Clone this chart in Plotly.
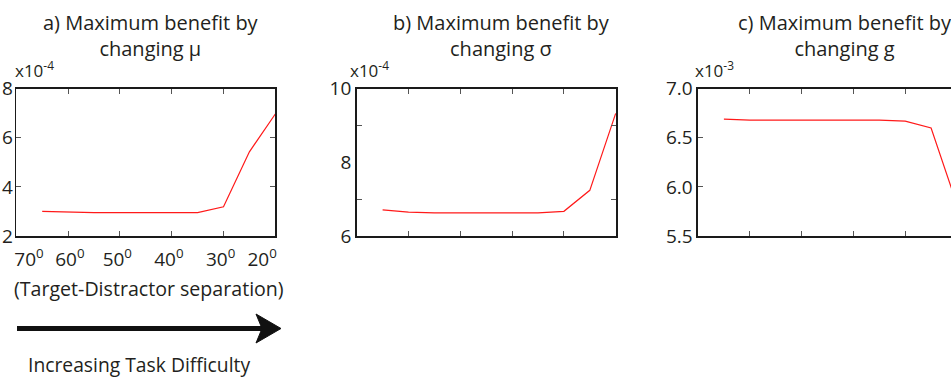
import plotly.graph_objects as go

W, H = 951, 377

# ---- data (values shown in the scale of each panel's multiplier) ----
step = [1, 2, 3, 4, 5, 6, 7, 8, 9, 10]
benefit_mu = [3.00, 2.96, 2.95, 2.95, 2.95, 2.95, 2.95, 3.19, 5.43, 6.97]      # x10^-4
benefit_sigma = [6.71, 6.65, 6.63, 6.63, 6.63, 6.63, 6.63, 6.67, 7.24, 9.33]   # x10^-4
benefit_g = [6.69, 6.68, 6.68, 6.68, 6.68, 6.68, 6.68, 6.67, 6.60, 5.82]       # x10^-3

sep_labels = ["70", "60", "50", "40", "30", "20"]
sep_label_pos = [0.49, 2.07, 3.9, 5.89, 7.89, 9.49]

titles = ["a) Maximum benefit by<br>changing μ",
          "b) Maximum benefit by<br>changing σ",
          "c) Maximum benefit by<br>changing g"]
multipliers = ["x10<sup>-4</sup>", "x10<sup>-4</sup>", "x10<sup>-3</sup>"]

ya_vals = [2, 4, 6, 8]
ya_text = ["2", "4", "6", "8"]
ya_minor = [4, 6]
yb_vals = [6, 8, 10]
yb_text = ["6", "8", "10"]
yb_minor = [7, 9]
yc_vals = [5.5, 6.0, 6.5, 7.0]
yc_text = ["5.5", "6.0", "6.5", "7.0"]
yc_minor = [6.0, 6.5]
x_minor = [2, 4, 6, 8]

FONT = "Open Sans"
TXT = "#231f20"

def px(x):
    return x / W

def py(y):
    return 1 - y / H

fig = go.Figure()
series = [benefit_mu, benefit_sigma, benefit_g]
for i, s in enumerate(series):
    fig.add_trace(go.Scatter(x=step, y=s, mode="lines",
                             line=dict(color="#ff1a1a", width=1.2),
                             xaxis="x" if i == 0 else f"x{i+1}",
                             yaxis="y" if i == 0 else f"y{i+1}",
                             showlegend=False, hoverinfo="skip"))

top, bot = 88.7, 236.0
xdoms = [(16.3, 275.3), (356.7, 616.0), (698.0, 951.0)]
unit = (275.3 - 16.3) / 10.0
yranges = [(2, 8), (6, 10), (5.5, 7.0)]
yvals = [(ya_vals, ya_text, ya_minor), (yb_vals, yb_text, yb_minor), (yc_vals, yc_text, yc_minor)]
ystandoff = [-2, 0, 0]

axis_common = dict(showline=True, linecolor="#1a1a1a", linewidth=1.6, automargin=False,
                   showgrid=False, zeroline=False, fixedrange=True)
for i in range(3):
    xa = "xaxis" if i == 0 else f"xaxis{i+1}"
    yan = "yaxis" if i == 0 else f"yaxis{i+1}"
    x0, x1 = xdoms[i]
    xr = (x1 - x0) / unit
    xaxis = dict(axis_common, domain=[px(x0), px(x1)], range=[0, xr],
                 anchor="y" if i == 0 else f"y{i+1}",
                 mirror="ticks", ticks="", showticklabels=False,
                 minor=dict(tickmode="array", tickvals=x_minor, ticks="inside",
                            ticklen=5, tickwidth=1, tickcolor="#555"))
    if i == 0:
        xaxis.update(showticklabels=True, tickmode="array",
                     tickvals=sep_label_pos,
                     ticktext=[f"{t}<sup>0</sup>" for t in sep_labels],
                     tickfont=dict(family=FONT, size=19, color=TXT),
                     ticklabelstandoff=6)
    vals, text, minor = yvals[i]
    yaxis = dict(axis_common, domain=[py(bot), py(top)], range=list(yranges[i]),
                 anchor="x" if i == 0 else f"x{i+1}",
                 mirror="ticks" if i < 2 else False, ticks="",
                 tickmode="array", tickvals=vals, ticktext=text,
                 tickfont=dict(family=FONT, size=19, color=TXT),
                 ticklabelstandoff=ystandoff[i],
                 minor=dict(tickmode="array", tickvals=minor, ticks="inside",
                            ticklen=5, tickwidth=1, tickcolor="#555"))
    fig.update_layout(**{xa: xaxis, yan: yaxis})

title_cx = [151, 501, 845]
mult_x = [12.7, 348, 693]
anns = []
for i in range(3):
    anns.append(dict(text=titles[i], x=px(title_cx[i]), y=py(7), xref="paper", yref="paper",
                     xanchor="center", yanchor="top", showarrow=False,
                     font=dict(family=FONT, size=20, color=TXT)))
    anns.append(dict(text=multipliers[i], x=px(mult_x[i]), y=py(84), xref="paper", yref="paper",
                     xanchor="left", yanchor="bottom", showarrow=False,
                     font=dict(family=FONT, size=17, color=TXT)))
anns.append(dict(text="(Target-Distractor separation)", x=px(149), y=py(288), xref="paper",
                 yref="paper", xanchor="center", yanchor="middle", showarrow=False,
                 font=dict(family=FONT, size=19.6, color=TXT)))
anns.append(dict(text="Increasing Task Difficulty", x=px(139), y=py(364), xref="paper",
                 yref="paper", xanchor="center", yanchor="middle", showarrow=False,
                 font=dict(family=FONT, size=19.3, color=TXT)))

shapes = [
    dict(type="line", xref="paper", yref="paper", x0=px(17), x1=px(262), y0=py(328.5), y1=py(328.5),
         line=dict(color="#111", width=5)),
    dict(type="path", xref="paper", yref="paper",
         path=f"M {px(256)},{py(314)} L {px(281)},{py(328.5)} L {px(256)},{py(343)} L {px(262)},{py(328.5)} Z",
         fillcolor="#111", line=dict(color="#111", width=1)),
]

fig.update_layout(width=W, height=H, autosize=False,
                  margin=dict(l=0, r=0, t=0, b=0),
                  paper_bgcolor="white", plot_bgcolor="white",
                  annotations=anns, shapes=shapes)

fig.write_html("out.html", config={"displayModeBar": False, "staticPlot": True},
               post_script="document.body.style.margin='0px';document.body.style.overflow='hidden';")
